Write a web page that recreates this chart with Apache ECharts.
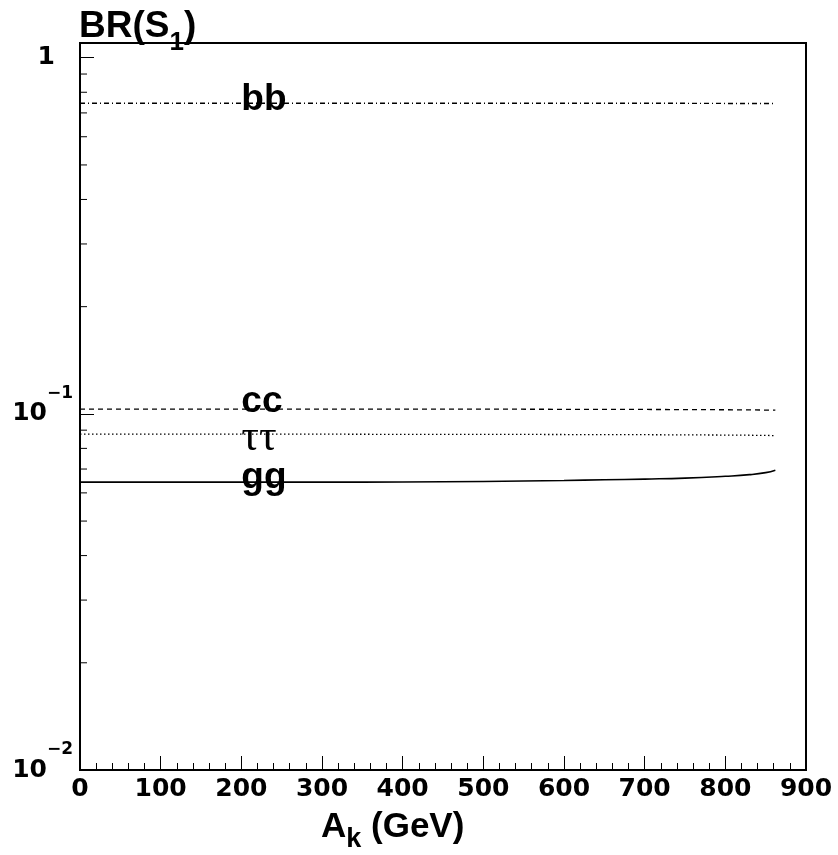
<!DOCTYPE html>
<html>
<head>
<meta charset="utf-8">
<title>BR(S1)</title>
<script src="https://cdn.jsdelivr.net/npm/echarts@6/dist/echarts.min.js"></script>
<style>
html, body { margin: 0; padding: 0; background: #fff; }
#chart { width: 838px; height: 855px; }
</style>
</head>
<body>
<div id="chart"></div>
<script>
// A_k (GeV) sample points
const massPoints = [0, 100, 200, 300, 400, 500, 600, 650, 700, 750, 800, 830, 850, 862]
// branching ratios
const brBB = [0.745, 0.745, 0.745, 0.745, 0.745, 0.745, 0.745, 0.745, 0.745, 0.745, 0.744, 0.744, 0.744, 0.744]
const brCC = [0.1031, 0.1031, 0.1031, 0.1031, 0.1031, 0.1031, 0.1030, 0.1030, 0.1029, 0.1028, 0.1027, 0.1026, 0.1025, 0.1024]
const brTauTau = [0.0877, 0.0877, 0.0877, 0.0877, 0.0876, 0.0876, 0.0875, 0.0874, 0.0874, 0.0873, 0.0872, 0.0871, 0.0870, 0.0869]
const brGG = [0.0643, 0.0643, 0.0643, 0.0643, 0.0644, 0.0646, 0.0650, 0.0653, 0.0656, 0.0660, 0.0668, 0.0675, 0.0684, 0.0695]

// channel labels (x in GeV, y in BR)
const labelNames = ['bb', 'cc', 'ττ', 'gg']
const labelX = [200, 200, 200, 200]
const labelY = [0.763, 0.1084, 0.0855, 0.0663]

// minor ticks of the log axis
const minorYTicks = [0.02, 0.03, 0.04, 0.05, 0.06, 0.07, 0.08, 0.09, 0.2, 0.3, 0.4, 0.5, 0.6, 0.7, 0.8, 0.9]

const tickFont = 'DejaVu Sans'
const titleFont = 'Liberation Sans, Arial, Helvetica, sans-serif'

function pairs(ys) {
  return massPoints.map((x, i) => [x, ys[i]])
}

function yLabel(v) {
  const l = Math.log10(v)
  const e = Math.round(l)
  if (Math.abs(l - e) > 1e-6) return ''
  if (e === 0) return '{m|1}{g|}'
  return '{m|10}{s|\u2212' + (-e) + '}'
}

const chart = echarts.init(document.getElementById('chart'))

const option = {
  animation: false,
  backgroundColor: '#fff',
  title: [
    {
      text: '{a|BR(S}{b|1}{a|)}',
      left: 79,
      top: -2,
      padding: 0,
      textStyle: {
        rich: {
          a: { fontFamily: titleFont, fontWeight: 'bold', fontSize: 37, color: '#000' },
          b: { fontFamily: titleFont, fontWeight: 'bold', fontSize: 26, color: '#000', padding: [32, 0, 0, 0] }
        }
      }
    },
    {
      text: '{a|A}{b|k}{a| (GeV)}',
      left: 321,
      top: 802,
      padding: 0,
      textStyle: {
        rich: {
          a: { fontFamily: titleFont, fontWeight: 'bold', fontSize: 35, color: '#000' },
          b: { fontFamily: titleFont, fontWeight: 'bold', fontSize: 27, color: '#000', padding: [24, 0, 0, 0] }
        }
      }
    }
  ],
  grid: {
    left: 80,
    top: 43,
    right: 32,
    bottom: 85,
    show: true,
    borderColor: '#000',
    borderWidth: 2,
    backgroundColor: 'transparent'
  },
  xAxis: {
    type: 'value',
    min: 0,
    max: 900,
    interval: 100,
    axisLine: { lineStyle: { color: '#000', width: 2 } },
    axisTick: { show: true, inside: true, length: 14, lineStyle: { color: '#000', width: 1 } },
    minorTick: { show: true, splitNumber: 5, length: 7, lineStyle: { color: '#000', width: 1 } },
    splitLine: { show: false },
    axisLabel: {
      margin: 7,
      color: '#000',
      fontFamily: tickFont,
      fontWeight: 'bold',
      fontSize: 25
    }
  },
  yAxis: {
    type: 'log',
    logBase: 10,
    min: 0.01,
    max: 1.1,
    axisLine: { show: true, lineStyle: { color: '#000', width: 2 } },
    axisTick: { show: true, inside: true, length: 14, lineStyle: { color: '#000', width: 1 } },
    splitLine: { show: false },
    axisLabel: {
      margin: 7,
      showMaxLabel: false,
      formatter: yLabel,
      rich: {
        m: { fontFamily: tickFont, fontWeight: 'bold', fontSize: 25, color: '#000' },
        s: { fontFamily: tickFont, fontWeight: 'bold', fontSize: 17, color: '#000', padding: [0, 0, 40, 0] },
        g: { width: 18 }
      }
    }
  },
  series: [
    {
      name: 'bb',
      type: 'line',
      data: pairs(brBB),
      showSymbol: false,
      symbol: 'none',
      lineStyle: { color: '#000', width: 1.3, type: [5, 3, 1, 3] }
    },
    {
      name: 'cc',
      type: 'line',
      data: pairs(brCC),
      showSymbol: false,
      symbol: 'none',
      lineStyle: { color: '#000', width: 1.3, type: [5, 4] }
    },
    {
      name: 'tautau',
      type: 'line',
      data: pairs(brTauTau),
      showSymbol: false,
      symbol: 'none',
      lineStyle: { color: '#000', width: 1.3, type: [1.5, 2.5] }
    },
    {
      name: 'gg',
      type: 'line',
      data: pairs(brGG),
      smooth: true,
      showSymbol: false,
      symbol: 'none',
      lineStyle: { color: '#000', width: 1.6, type: 'solid' }
    },
    {
      // channel names
      type: 'scatter',
      symbolSize: 0,
      silent: true,
      itemStyle: { color: '#000', opacity: 1 },
      data: labelNames.map((n, i) => ({
        value: [labelX[i], labelY[i], n],
        label: n === 'ττ'
          ? { color: '#000', fontFamily: 'Liberation Serif, Times New Roman, serif', fontWeight: 'normal', fontSize: 44 }
          : { color: '#000' }
      })),
      label: {
        show: true,
        position: 'right',
        distance: 0,
        formatter: p => p.value[2],
        color: '#000',
        opacity: 1,
        fontFamily: titleFont,
        fontWeight: 'bold',
        fontSize: 37
      },
      emphasis: { disabled: true },
      z: 5
    },
    {
      // minor ticks 2..9 on the log axis
      type: 'custom',
      silent: true,
      data: minorYTicks.map(v => [0, v]),
      renderItem: function (params, api) {
        const pt = api.coord([0, api.value(1)])
        const x0 = params.coordSys.x
        return {
          type: 'line',
          shape: { x1: x0, y1: pt[1], x2: x0 + 7, y2: pt[1] },
          style: { stroke: '#000', lineWidth: 1 }
        }
      },
      z: 3
    }
  ]
}

chart.setOption(option)
</script>
</body>
</html>
